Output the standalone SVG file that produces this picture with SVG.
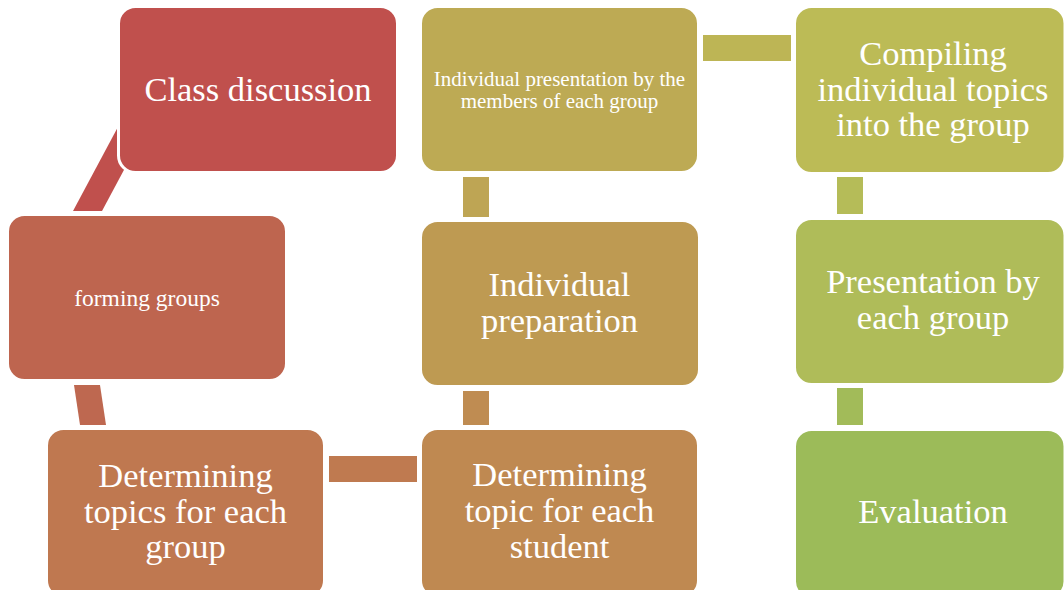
<svg xmlns="http://www.w3.org/2000/svg" width="1064" height="590" viewBox="0 0 1064 590">
  <style>
    .box { stroke: #ffffff; stroke-width: 3; }
    .lbl { font-family: "Liberation Serif", "Times New Roman", serif; fill: #ffffff; text-anchor: middle; }
    .big { font-size: 34.5px; }
    .mid { font-size: 23.5px; }
    .small { font-size: 21px; }
  </style>
  <rect width="1064" height="590" fill="#ffffff"/>

  <!-- connectors sit underneath the boxes -->
  <g id="connectors">
    <polygon points="73,211 102,211 148,125 119,125" fill="#C0504D"/>
    <polygon points="74,385 100,385 106,425 80,425" fill="#BE6850"/>
    <rect x="329" y="456" width="88" height="26" fill="#BF7A50"/>
    <rect x="463" y="391" width="26" height="34" fill="#BF8C52"/>
    <rect x="463" y="177" width="26" height="40" fill="#BEA554"/>
    <rect x="703" y="35" width="88" height="26" fill="#BDB555"/>
    <rect x="837" y="177" width="26" height="37" fill="#B5BC58"/>
    <rect x="837" y="388" width="26" height="37" fill="#A2BB59"/>
  </g>

  <!-- boxes: the white outline sits half outside the coloured area -->
  <g id="class-discussion">
    <rect class="box" x="118.5" y="6.5" width="279" height="166" rx="17" fill="#C0504D"/>
    <text class="lbl big" x="258" y="101">Class discussion</text>
  </g>

  <g id="forming-groups">
    <rect class="box" x="7.5" y="214.5" width="279" height="166" rx="17" fill="#BE654F"/>
    <text class="lbl mid" x="147" y="306">forming groups</text>
  </g>

  <g id="topics-for-group">
    <rect class="box" x="46.5" y="428.5" width="278" height="169" rx="17" fill="#BF7850"/>
    <text class="lbl big" x="185.5" y="487">Determining<tspan x="185.5" y="523">topics for each</tspan><tspan x="185.5" y="558">group</tspan></text>
  </g>

  <g id="topic-for-student">
    <rect class="box" x="420.5" y="428.5" width="278" height="169" rx="17" fill="#BF8951"/>
    <text class="lbl big" x="559.5" y="486">Determining<tspan x="559.5" y="522">topic for each</tspan><tspan x="559.5" y="558">student</tspan></text>
  </g>

  <g id="individual-preparation">
    <rect class="box" x="420.5" y="220.5" width="279" height="166" rx="17" fill="#BE9A52"/>
    <text class="lbl big" x="559.5" y="296">Individual<tspan x="559.5" y="332">preparation</tspan></text>
  </g>

  <g id="individual-presentation">
    <rect class="box" x="420.5" y="6.5" width="278" height="166" rx="17" fill="#BDAA54"/>
    <text class="lbl small" x="559.5" y="86">Individual presentation by the<tspan x="559.5" y="108">members of each group</tspan></text>
  </g>

  <g id="compiling">
    <rect class="box" x="794.5" y="6.5" width="270.5" height="167" rx="17" fill="#BCBB56"/>
    <text class="lbl big" x="933" y="65">Compiling<tspan x="933" y="101">individual topics</tspan><tspan x="933" y="136">into the group</tspan></text>
  </g>

  <g id="group-presentation">
    <rect class="box" x="794.5" y="218.5" width="270.5" height="166" rx="17" fill="#AFBC59"/>
    <text class="lbl big" x="933" y="293">Presentation by<tspan x="933" y="329">each group</tspan></text>
  </g>

  <g id="evaluation">
    <rect class="box" x="794.5" y="429.5" width="270.5" height="169" rx="17" fill="#9CBB59"/>
    <text class="lbl big" x="933" y="523">Evaluation</text>
  </g>
</svg>
